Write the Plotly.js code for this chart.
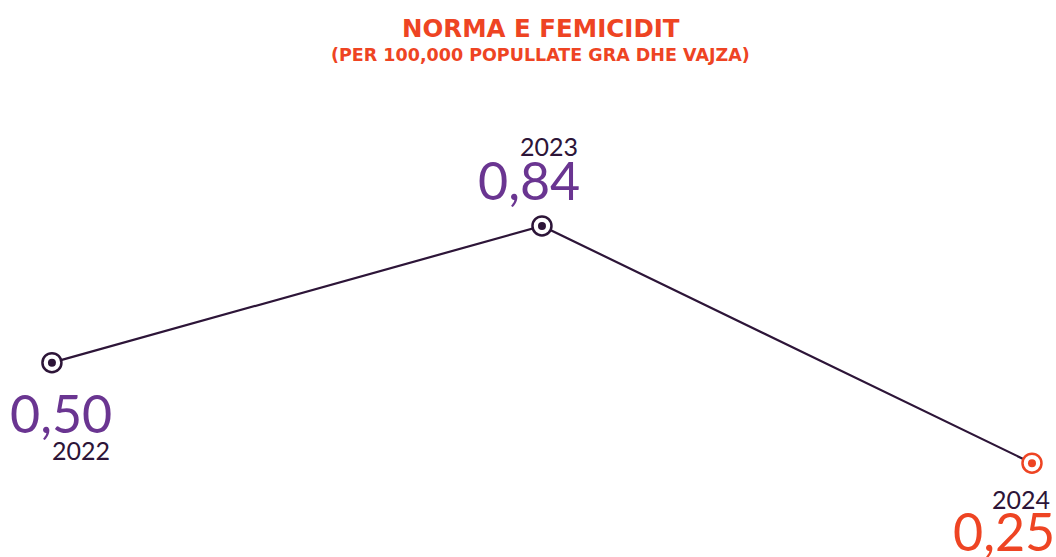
<!DOCTYPE html>
<html><head><meta charset="utf-8">
<script src="https://cdn.plot.ly/plotly-3.0.1.min.js"></script>
<style>html,body{margin:0;padding:0;background:#fff;}#chart{width:1056px;height:557px;}</style>
</head><body><div id="chart"></div>
<script>
const years = [2022, 2023, 2024];
const values = [0.50, 0.84, 0.25];
const valueLabels = ["0,50", "0,84", "0,25"];
const yearLabels = ["2022", "2023", "2024"];

const dark = "#2d1538";
const purple = "#6a3591";
const orange = "#ee4423";
const markerColors = [dark, dark, orange];

const traces = [
  {x: years, y: values, mode: "lines", line: {color: dark, width: 2.2}, hoverinfo: "skip"},
  {x: years, y: values, mode: "markers", marker: {size: 19, color: "#fff", line: {color: markerColors, width: 2.5}}, hoverinfo: "skip"},
  {x: years, y: values, mode: "markers", marker: {size: 8, color: markerColors}, hoverinfo: "skip"}
];

const font = "Lato, 'Open Sans', sans-serif";
const tfont = "'DejaVu Sans', 'Open Sans', sans-serif";
const annotations = [
  {xref: "paper", yref: "paper", x: 0.512, y: 1 - 29/557, text: "<b>NORMA E FEMICIDIT</b>", showarrow: false, font: {family: tfont, size: 24.5, color: orange}, xanchor: "center", yanchor: "middle"},
  {xref: "paper", yref: "paper", x: 0.512, y: 1 - 55/557, text: "<b>(PER 100,000 POPULLATE GRA DHE VAJZA)</b>", showarrow: false, font: {family: tfont, size: 17.5, color: orange}, xanchor: "center", yanchor: "middle"},
  // 2022
  {x: years[0], y: values[0], text: valueLabels[0], showarrow: false, font: {family: font, size: 52, color: purple}, xanchor: "left", yanchor: "middle", xshift: -44, yshift: -50},
  {x: years[0], y: values[0], text: yearLabels[0], showarrow: false, font: {family: font, size: 25, color: dark}, xanchor: "left", yanchor: "middle", xshift: -2, yshift: -87},
  // 2023
  {x: years[1], y: values[1], text: yearLabels[1], showarrow: false, font: {family: font, size: 25, color: dark}, xanchor: "right", yanchor: "middle", xshift: 38, yshift: 80},
  {x: years[1], y: values[1], text: valueLabels[1], showarrow: false, font: {family: font, size: 52, color: purple}, xanchor: "right", yanchor: "middle", xshift: 40, yshift: 46},
  // 2024
  {x: years[2], y: values[2], text: yearLabels[2], showarrow: false, font: {family: font, size: 25, color: dark}, xanchor: "right", yanchor: "middle", xshift: 20, yshift: -36},
  {x: years[2], y: values[2], text: valueLabels[2], showarrow: false, font: {family: font, size: 52, color: orange}, xanchor: "right", yanchor: "middle", xshift: 25, yshift: -68}
];

const layout = {
  width: 1056, height: 557,
  margin: {l: 0, r: 0, t: 0, b: 0},
  paper_bgcolor: "#fff", plot_bgcolor: "#fff",
  showlegend: false,
  xaxis: {range: [2021.894, 2024.049], visible: false, fixedrange: true},
  yaxis: {range: [0.0166, 1.402], visible: false, fixedrange: true},
  annotations: annotations
};

Plotly.newPlot("chart", traces, layout, {displayModeBar: false, staticPlot: true});
</script></body></html>
